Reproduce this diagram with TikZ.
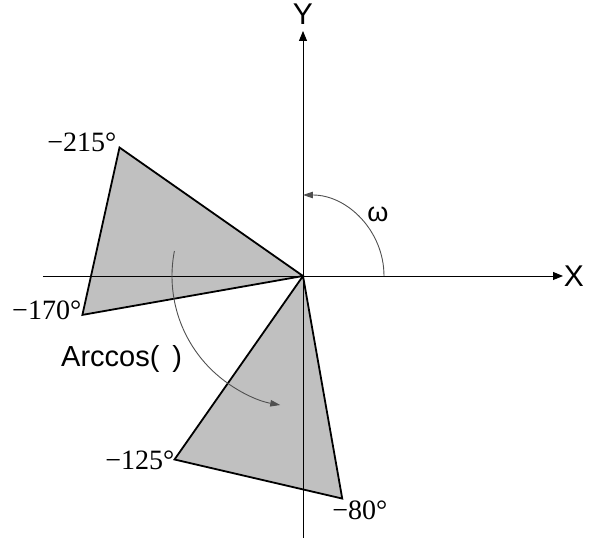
\documentclass[tikz,border=0pt]{standalone}
\usepackage{fontspec}
\setmainfont{Liberation Serif}
\newfontfamily\arialf{Liberation Sans}
\usetikzlibrary{arrows.meta,calc}
\definecolor{trifill}{HTML}{C0C0C0}
\definecolor{arcgray}{HTML}{505050}
\tikzset{
  tri/.style={fill=trifill,draw=black,line width=1.8pt,line join=miter},
  axis/.style={draw=black,line width=0.9pt,-{Triangle[length=10pt,width=8pt]}},
  rotarc/.style={draw=arcgray,line width=0.9pt,-{Triangle[length=10pt,width=6.5pt]}},
  deg/.style={font=\fontsize{28}{32}\selectfont,inner sep=0pt},
  sanslbl/.style={font=\arialf\fontsize{30}{34}\selectfont,inner sep=0pt}
}
\begin{document}
\begin{tikzpicture}[x=1pt,y=1pt]
\useasboundingbox (-303,-264) rectangle (292,276);
\coordinate (O) at (0,0);
\coordinate (A) at (-215:224);
\coordinate (B) at (-170:224);
\coordinate (C) at (-125:224);
\coordinate (D) at (-80:226);
% triangles
\path[tri] (O) -- (A) -- (B) -- cycle;
\path[tri] (O) -- (C) -- (D) -- cycle;
% axes
\coordinate (xs) at (-260,0);
\coordinate (xe) at (260,0);
\coordinate (ys) at (0,-262);
\coordinate (ye) at (0,245);
\draw[axis] (xs) -- (xe);
\draw[axis] (ys) -- (ye);
\node[sanslbl] (X) at (271,0) {X};
\node[sanslbl] (Y) at (0,262) {Y};
% omega arc
\coordinate (w0) at (0:81);
\draw[rotarc] (w0) arc[start angle=0,end angle=90,radius=81];
\node[font=\arialf\fontsize{27}{30}\selectfont,inner sep=0pt] (w) at (75,62) {ω};
% arccos arc
\coordinate (a0) at (169:131);
\draw[rotarc] (a0) arc[start angle=169,end angle=260,radius=131];
\node[font=\arialf\fontsize{29}{33}\selectfont,inner sep=0pt,anchor=base west] (arc) at (-242,-91) {Arccos(\hspace{13pt})};
% degree labels
\node[deg,anchor=base east] (lA) at ($(A)+(-3,-4)$) {−215°};
\node[deg,anchor=base east] (lB) at ($(B)+(-1,-5)$) {−170°};
\node[deg,anchor=base east] (lC) at ($(C)+(0,-10)$) {−125°};
\node[deg,anchor=base west] (lD) at ($(D)+(-10,-21)$) {−80°};
\end{tikzpicture}
\end{document}
